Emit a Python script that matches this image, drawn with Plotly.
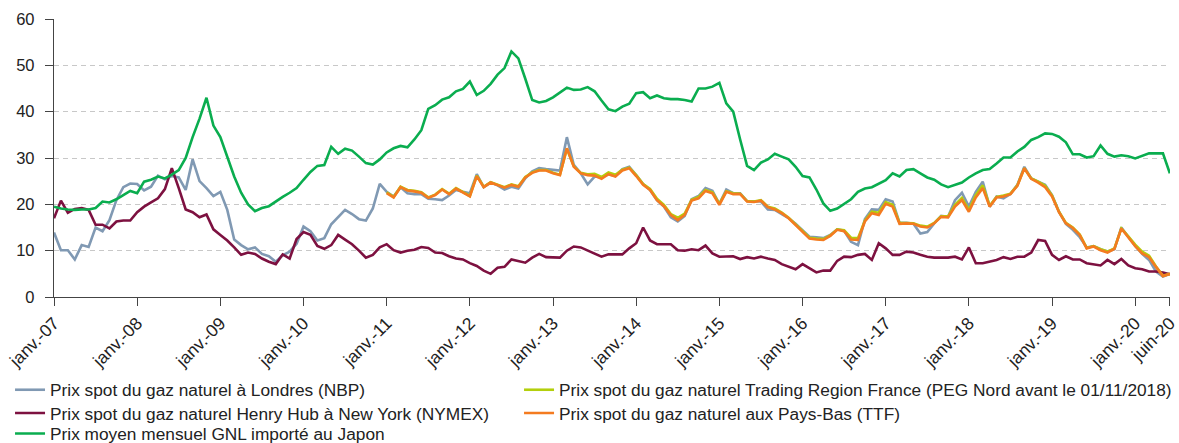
import plotly.graph_objects as go

years = list(range(7, 21))
tick_labels = [f"janv.-{y:02d}" for y in years] + ["juin-20"]
n_months = 162  # janv-07 .. juin-20
months = list(range(n_months))

japon = [19.5, 19.1, 18.9, 18.8, 18.9, 18.9, 19.2, 20.6, 20.4, 21.1, 22.0, 22.9,
         22.4, 24.9, 25.3, 26.0, 25.6, 26.4, 27.4, 30.0, 34.5, 38.5, 43.0, 37.0,
         34.5, 30.0, 26.0, 22.5, 20.0, 18.5, 19.2, 19.6, 20.7, 21.6, 22.5, 23.5,
         25.3, 27.0, 28.3, 28.5, 32.4, 30.9, 32.0, 31.6, 30.3, 28.9, 28.6, 29.7,
         31.2, 32.1, 32.6, 32.3, 34.0, 36.0, 40.6, 41.4, 42.6, 43.1, 44.4, 44.9,
         46.5, 43.6, 44.5, 46.0, 48.0, 49.4, 53.0, 51.5, 47.1, 42.5, 42.0, 42.3,
         43.1, 44.2, 45.2, 44.7, 44.8, 45.3, 44.4, 42.4, 40.5, 40.1, 41.1, 41.7,
         44.0, 44.2, 42.9, 43.5, 42.9, 42.7, 42.7, 42.5, 42.2, 45.0, 45.0, 45.4,
         46.2, 41.8, 40.0, 34.0, 28.3, 27.4, 29.0, 29.7, 30.9, 30.3, 29.7, 28.1,
         26.1, 25.8, 23.2, 20.2, 18.6, 19.1, 20.2, 21.1, 22.7, 23.4, 23.7, 24.4,
         25.2, 26.7, 26.0, 27.4, 27.6, 26.7, 25.8, 25.3, 24.3, 23.7, 24.2, 24.7,
         25.8, 26.7, 27.4, 27.6, 28.8, 30.1, 30.1, 31.4, 32.4, 33.9, 34.5, 35.3,
         35.2, 34.6, 33.4, 30.8, 30.8, 30.1, 30.4, 32.7, 30.9, 30.3, 30.6, 30.4,
         29.9, 30.4, 31.0, 31.0, 31.0, 26.7]

henry_hub = [17.0, 20.8, 18.2, 19.0, 19.2, 18.8, 15.6, 15.6, 14.8, 16.3, 16.5, 16.5,
             18.3, 19.5, 20.4, 21.3, 23.3, 27.8, 23.5, 18.9, 18.3, 17.2, 17.8, 14.6,
             13.4, 12.2, 10.7, 9.1, 9.6, 9.3, 8.3, 7.6, 7.1, 9.2, 8.3, 12.5,
             14.0, 13.4, 11.0, 10.4, 11.2, 13.4, 12.4, 11.4, 10.0, 8.5, 9.1, 10.7,
             11.4, 10.1, 9.6, 10.0, 10.2, 10.8, 10.6, 9.6, 9.5, 8.8, 8.3, 8.1,
             7.3, 6.7, 5.7, 5.0, 6.3, 6.5, 8.1, 7.8, 7.4, 8.5, 9.3, 8.6,
             8.6, 8.5, 10.0, 10.9, 10.7, 10.0, 9.4, 8.7, 9.2, 9.2, 9.2, 10.5,
             11.6, 15.0, 12.2, 11.4, 11.4, 11.4, 10.1, 10.0, 10.3, 10.1, 11.1, 9.4,
             8.7, 8.7, 8.8, 8.2, 8.6, 8.3, 8.7, 8.3, 8.0, 7.1, 6.5, 6.0,
             7.1, 6.2, 5.3, 5.7, 5.7, 7.8, 8.7, 8.6, 9.1, 9.3, 8.0, 11.6,
             10.5, 9.1, 9.1, 9.8, 9.6, 9.1, 8.7, 8.5, 8.5, 8.5, 8.7, 8.1,
             10.7, 7.3, 7.3, 7.6, 8.0, 8.6, 8.2, 8.7, 8.7, 9.6, 12.3, 12.1,
             9.1, 8.0, 8.8, 8.1, 8.1, 7.3, 7.1, 6.8, 8.0, 7.1, 8.2, 6.8,
             6.2, 6.0, 5.5, 5.5, 5.3, 4.9]

nbp = [13.9, 10.1, 10.1, 8.1, 11.2, 10.8, 15.0, 14.2, 16.6, 20.9, 23.7, 24.5,
       24.4, 23.0, 23.8, 26.2, 25.4, 26.1, 25.8, 23.1, 29.7, 25.0, 23.5, 21.8,
       22.7, 18.8, 12.4, 11.2, 10.3, 10.7, 9.3, 8.8, 7.6, 9.0, 9.8, 11.5,
       15.2, 14.2, 12.2, 12.7, 15.7, 17.3, 18.8, 17.9, 16.8, 16.5, 19.1, 24.4,
       22.7, 21.7, 23.7, 22.4, 22.2, 22.2, 21.2, 21.1, 20.9, 21.9, 23.1, 22.7,
       22.4, 26.5, 23.7, 24.7, 24.1, 23.2, 23.8, 23.4, 25.6, 27.1, 27.8, 27.6,
       27.4, 27.3, 34.5, 28.5, 26.7, 24.3, 26.0, 25.8, 26.5, 26.1, 27.6, 28.1,
       26.3, 24.4, 23.1, 20.9, 19.5, 17.2, 16.3, 17.5, 21.1, 21.8, 23.5, 22.9,
       20.1, 23.2, 22.4, 22.4, 20.7, 20.6, 20.6, 18.9, 18.8, 17.9, 17.0, 15.8,
       14.3, 13.0, 12.9, 12.7, 13.4, 14.6, 14.3, 11.9, 11.2, 16.8, 18.9, 18.8,
       21.1, 20.6, 16.0, 16.0, 15.8, 13.7, 14.0, 15.9, 17.5, 17.3, 20.9, 22.5,
       19.5, 22.7, 24.9, 19.5, 21.7, 21.3, 22.2, 24.2, 28.1, 25.6, 24.9, 24.2,
       22.0, 18.4, 15.8, 14.5, 12.9, 10.7, 11.0, 10.3, 9.8, 10.3, 15.0, 12.9,
       11.0, 9.3, 8.0, 5.5, 4.4, 5.0]

# TTF and PEG start in janv-11 (month index 48)
ttf = [None] * 48 + [
    22.4, 21.5, 23.7, 23.0, 22.8, 22.5, 21.4, 22.0, 23.2, 22.2, 23.4, 22.6,
    21.7, 26.1, 23.7, 24.7, 24.1, 23.6, 24.2, 23.8, 25.8, 26.8, 27.3, 27.3,
    26.7, 26.3, 32.1, 28.1, 26.7, 26.3, 26.2, 25.5, 26.5, 26.0, 27.3, 27.8,
    26.1, 24.2, 23.1, 20.9, 19.6, 17.7, 16.6, 17.7, 20.8, 21.3, 22.9, 22.4,
    19.9, 22.7, 22.2, 22.2, 20.6, 20.5, 20.8, 19.4, 18.9, 18.1, 17.0, 15.5,
    14.1, 12.6, 12.4, 12.3, 13.2, 14.5, 14.2, 12.4, 12.3, 16.3, 18.1, 17.7,
    20.1, 19.5, 15.8, 15.9, 15.8, 15.2, 15.0, 15.9, 17.3, 17.2, 19.5, 20.9,
    18.4, 21.5, 23.5, 19.5, 21.5, 21.7, 22.2, 24.0, 27.8, 25.5, 24.7, 23.7,
    21.7, 18.3, 15.9, 14.9, 13.4, 10.5, 10.9, 10.1, 9.6, 10.4, 14.8, 12.9,
    11.0, 9.4, 8.6, 6.5, 4.5, 5.0]

peg = [None] * 48 + [
    22.6, 21.6, 23.8, 23.1, 22.9, 22.6, 21.5, 22.1, 23.3, 22.3, 23.5, 22.7,
    21.8, 26.2, 23.8, 24.8, 24.2, 23.7, 24.3, 23.9, 25.9, 26.9, 27.4, 27.4,
    26.8, 26.4, 32.0, 28.2, 26.8, 26.5, 26.6, 25.9, 26.9, 26.4, 27.5, 27.9,
    26.3, 24.4, 23.3, 21.2, 19.9, 17.9, 17.1, 18.0, 21.0, 21.6, 23.1, 22.6,
    20.1, 22.8, 22.4, 22.3, 20.7, 20.6, 20.9, 19.5, 19.1, 18.2, 17.1, 15.6,
    14.2, 12.8, 12.6, 12.5, 13.3, 14.6, 14.4, 12.8, 12.7, 16.5, 18.4, 18.2,
    20.5, 19.9, 16.0, 16.0, 15.9, 15.4, 15.2, 16.0, 17.4, 17.4, 19.9, 21.4,
    18.8, 22.0, 24.1, 19.7, 21.6, 21.9, 22.3, 24.1, 27.8, 25.6, 24.9, 24.0,
    21.9, 18.4, 16.0, 15.0, 13.5, 10.6, 11.0, 10.3, 9.8, 10.5, 14.8, 13.1,
    11.3, 9.8, 8.9, 6.6, 4.6, 5.0]

tick_positions = [12 * k for k in range(len(years))] + [n_months - 1]

FONT = "Liberation Sans, Arial, Helvetica, sans-serif"

# (name, values, colour, legend id, legend x (paper), legend y (paper))
series = [
    ("Prix spot du gaz naturel à Londres (NBP)", nbp, "#8099b3", "legend", -0.0394, -0.3345),
    ("Prix spot du gaz naturel Henry Hub à New York (NYMEX)", henry_hub, "#7d1140", "legend2", -0.0394, -0.4183),
    ("Prix moyen mensuel GNL importé au Japon", japon, "#0aad4f", "legend3", -0.0394, -0.4920),
    ("Prix spot du gaz naturel Trading Region France (PEG Nord avant le 01/11/2018)", peg, "#b3cf0c", "legend4", 0.4167, -0.3345),
    ("Prix spot du gaz naturel aux Pays-Bas (TTF)", ttf, "#f47b20", "legend5", 0.4167, -0.4183),
]

fig = go.Figure()
legend_layouts = {}
for name, vals, color, leg, lx, ly in series:
    fig.add_trace(go.Scatter(
        x=months, y=vals, mode="lines", name=name,
        line=dict(color=color, width=2.6),
        legend=leg, connectgaps=False,
    ))
    legend_layouts[leg] = dict(
        x=lx, y=ly, xanchor="left", yanchor="middle",
        orientation="v", font=dict(size=17.3, color="#222222", family=FONT),
        bgcolor="rgba(0,0,0,0)", borderwidth=0,
    )

fig.update_layout(
    width=1179, height=443,
    margin=dict(l=54, r=9, t=19, b=146, autoexpand=False),
    paper_bgcolor="white", plot_bgcolor="white",
    font=dict(family=FONT, color="#222222", size=16),
    showlegend=True,
    **legend_layouts,
)

fig.update_xaxes(
    range=[0, n_months - 1 + 0.02], automargin=False,
    tickmode="array", tickvals=tick_positions, ticktext=tick_labels,
    tickangle=-45, tickfont=dict(size=17.5, color="#222222"),
    ticklabeloverflow="allow",
    showline=True, linecolor="#444444", linewidth=1.3,
    ticks="outside", ticklen=8, tickcolor="#444444", tickwidth=1.3,
    showgrid=False, zeroline=False,
)
fig.update_yaxes(
    range=[0, 60], automargin=False,
    tickmode="array", tickvals=[0, 10, 20, 30, 40, 50, 60],
    tickfont=dict(size=16.5, color="#222222"),
    showline=True, linecolor="#444444", linewidth=1.3,
    ticks="outside", ticklen=8, tickcolor="#444444", tickwidth=1.3,
    ticklabelstandoff=7,
    showgrid=True, gridcolor="#c8c8c8", gridwidth=1, griddash="5px,4px",
    zeroline=False,
)

fig.write_html(
    "out.html",
    config={"displayModeBar": False},
    post_script="document.body.style.margin='0';document.body.style.overflow='hidden';",
)
